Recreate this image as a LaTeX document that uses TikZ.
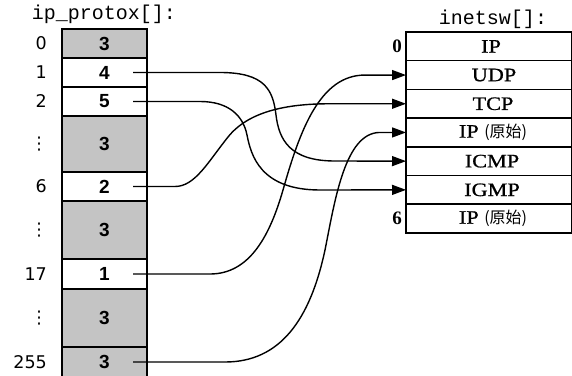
\documentclass[tikz,border=0pt]{standalone}
\usepackage{fontspec}
\setmainfont{Liberation Serif}
\newfontfamily\monofont{Liberation Mono}
\newfontfamily\idxfont{DejaVu Sans}
\newfontfamily\cellfont{Liberation Sans}
\newfontfamily\rfont[FakeStretch=1.17,FakeBold=0.8]{Liberation Serif}
\newfontfamily\cjkfont{Noto Sans CJK SC}
\usetikzlibrary{arrows.meta}
\definecolor{shade}{gray}{0.77}
\newcommand{\raw}{{\cjkfont\fontsize{16}{16}\selectfont(原始)}}
\begin{document}
\begin{tikzpicture}[x=1pt,y=-1pt,
  lcell/.style={draw,line width=1.5pt,minimum width=85pt,inner sep=0pt,outer sep=0pt,
    font=\cellfont\bfseries\fontsize{19}{19}\selectfont},
  gcell/.style={lcell,fill=shade},
  rcell/.style={draw,line width=1.5pt,minimum width=165.5pt,minimum height=28.7pt,inner sep=0pt,outer sep=0pt},
  rtext/.style={inner sep=0pt,font=\rfont\fontsize{19}{19}\selectfont},
  idx/.style={anchor=east,inner sep=0pt,font=\idxfont\fontsize{17.5}{17.5}\selectfont},
  ridx/.style={anchor=east,inner sep=0pt,font=\bfseries\fontsize{19}{19}\selectfont},
  hdr/.style={inner sep=0pt,font=\monofont\fontsize{20}{20}\selectfont},
  link/.style={line width=1.4pt,-{Triangle[length=14pt,width=10pt]}}
]
\clip (0,0) rectangle (572,375);
\fill[white] (0,0) rectangle (572,375);
% left table
\node[hdr] (lh) at (104,14) {ip\_protox[]:};
\node[gcell,minimum height=29pt] (p0) at (104.5,43.5) {3};
\node[lcell,minimum height=29pt] (p1) at (104.5,72.5) {4};
\node[lcell,minimum height=29pt] (p2) at (104.5,101.5) {5};
\node[gcell,minimum height=56pt] (pa) at (104.5,144) {3};
\node[lcell,minimum height=29pt] (p6) at (104.5,186.5) {2};
\node[gcell,minimum height=58pt] (pb) at (104.5,230) {3};
\node[lcell,minimum height=30pt] (p17) at (104.5,274) {1};
\node[gcell,minimum height=58pt] (pc) at (104.5,318) {3};
\node[gcell,minimum height=30pt] (p255) at (104.5,362) {3};
% left indices
\node[idx] (i0) at (47,43.5) {0};
\node[idx] (i1) at (47,72.5) {1};
\node[idx] (i2) at (47,101.5) {2};
\node[idx] (ia) at (48,144) {⋮};
\node[idx] (i6) at (47,186.5) {6};
\node[idx] (ib) at (48,230) {⋮};
\node[idx] (i17) at (47,274) {17};
\node[idx] (ic) at (48,318) {⋮};
\node[idx] (i255) at (47,362) {255};
% right table
\node[hdr] (rh) at (493,19) {inetsw[]:};
\node[rcell] (r0) at (488.75,46.35) {};
\node[rcell] (r1) at (488.75,75.05) {};
\node[rcell] (r2) at (488.75,103.75) {};
\node[rcell] (r3) at (488.75,132.45) {};
\node[rcell] (r4) at (488.75,161.15) {};
\node[rcell] (r5) at (488.75,189.85) {};
\node[rcell] (r6) at (488.75,218.55) {};
\node[rtext] (t0) at (491,46.35) {IP};
\node[rtext] (t1) at (494,75.05) {UDP};
\node[rtext] (t2) at (493,103.75) {TCP};
\node[rtext] (t3) at (493,132.45) {IP \raw};
\node[rtext] (t4) at (492,161.15) {ICMP};
\node[rtext] (t5) at (492,189.85) {IGMP};
\node[rtext] (t6) at (493,218.55) {IP \raw};
\node[ridx] (j0) at (402,46.35) {0};
\node[ridx] (j6) at (402,218.55) {6};
% start points
\coordinate (s1) at (133,72.5);
\coordinate (s2) at (133,101.5);
\coordinate (s6) at (133,186.5);
\coordinate (s17) at (133,274);
\coordinate (s255) at (133,362);
% connectors
\draw[link] (s1) -- (220,72.5) .. controls (265,72.5) and (273,90) .. (276,115)
  .. controls (279,140) and (290,161) .. (335,161) -- (r4.west);
\draw[link] (s2) -- (200,101.5) .. controls (228,101.5) and (243,115) .. (247,135)
  .. controls (251,155) and (260,190) .. (320,190) -- (r5.west);
\draw[link] (s6) -- (175,186.5) .. controls (195,186.5) and (208,162) .. (228,137)
  .. controls (248,112) and (285,103.75) .. (330,103.75) -- (r2.west);
\draw[link] (s17) -- (210,274) .. controls (250,274) and (270,235) .. (283,190)
  .. controls (300,130) and (320,75.05) .. (365,75.05) -- (r1.west);
\draw[link] (s255) -- (225,362) .. controls (280,362) and (310,320) .. (325,250)
  .. controls (335,200) and (345,132.45) .. (380,132.45) -- (r3.west);
\end{tikzpicture}
\end{document}
